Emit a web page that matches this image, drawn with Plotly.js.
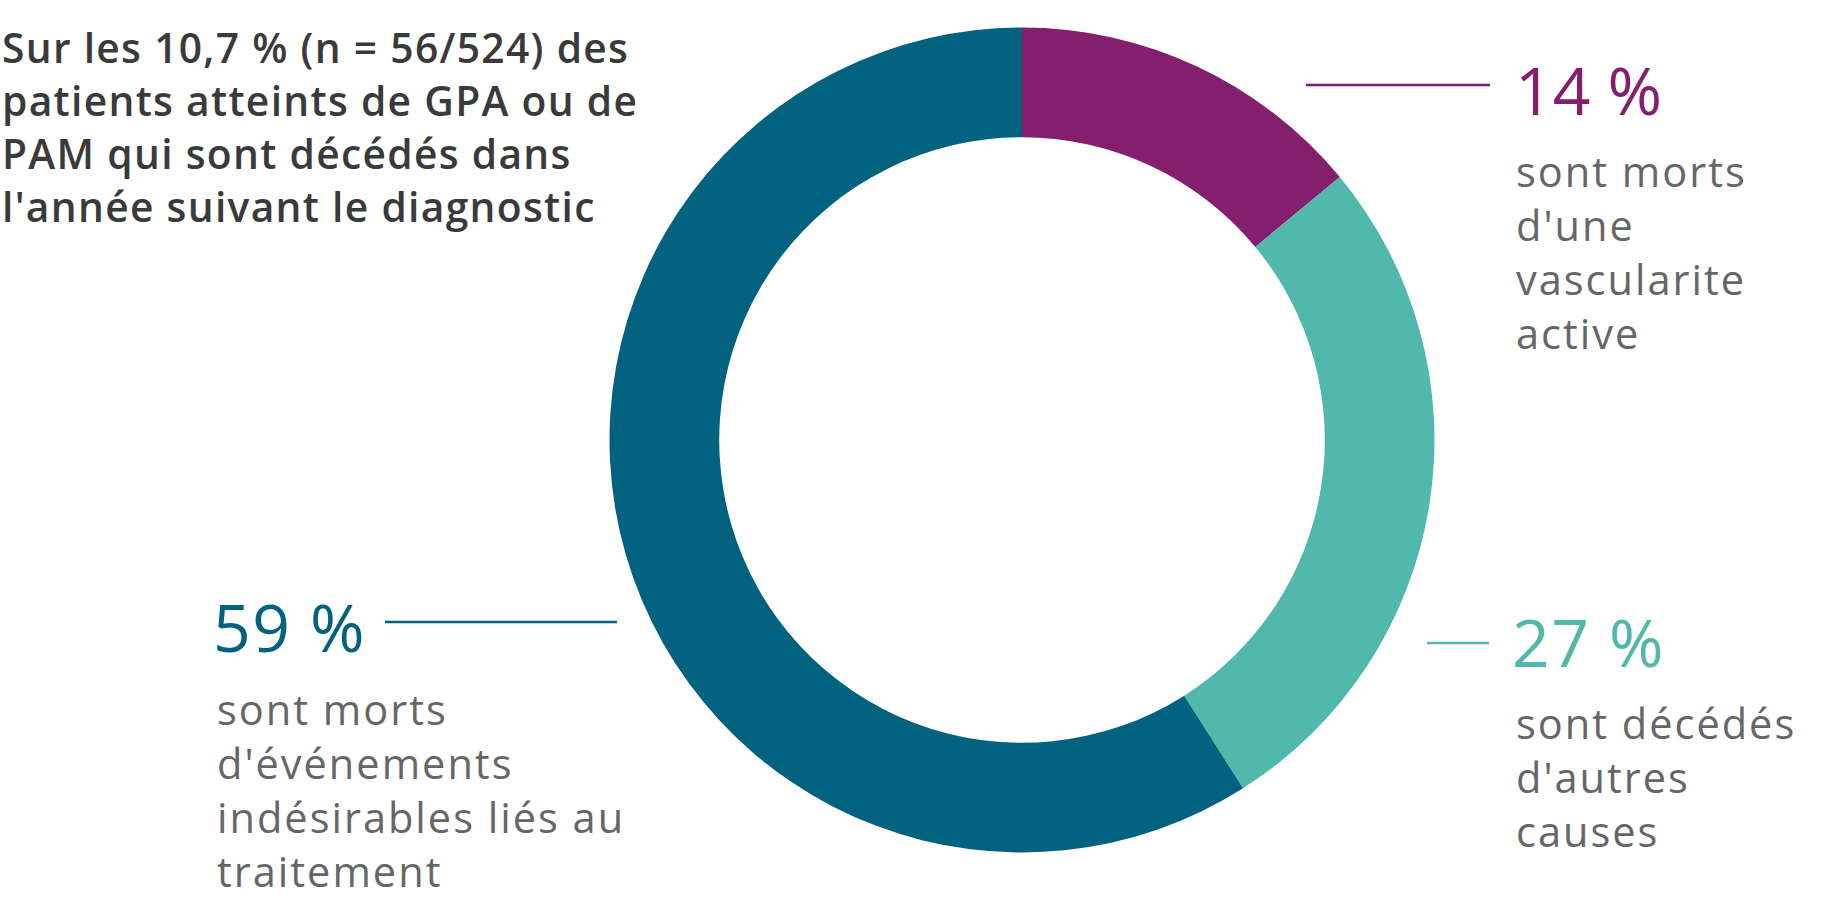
<!DOCTYPE html>
<html>
<head>
<meta charset="utf-8">
<script src="https://cdn.plot.ly/plotly-3.0.1.min.js"></script>
<style>
  html, body { margin: 0; padding: 0; background: #ffffff; }
  #chart { width: 1833px; height: 900px; }
</style>
</head>
<body>
<div id="chart"></div>
<script>
// ---- data ----
const categories = ["Vascularite active", "Autres causes", "Événements indésirables liés au traitement"];
const values = [14, 27, 59];
const sliceColors = ["#831F6C", "#51B9AB", "#00627E"];
const percentLabels = ["14 %", "27 %", "59 %"];
const descriptions = [
  ["sont morts", "d'une", "vascularite", "active"],
  ["sont décédés", "d'autres", "causes"],
  ["sont morts", "d'événements", "indésirables liés au", "traitement"]
];
const titleLines = [
  "Sur les 10,7 % (n = 56/524) des",
  "patients atteints de GPA ou de",
  "PAM qui sont décédés dans",
  "l'année suivant le diagnostic"
];

// ---- layout helpers ----
const W = 1833, H = 900;
const px = x => x / W;
const py = y => 1 - y / H;
const FONT = "'Open Sans', 'Noto Sans', sans-serif";

// label block placement (pixels): percent label position, first description line, connector line
const blocks = [
  { x: 1517, yPct: 91, yDesc: 175, line: [1306, 1490, 85] },
  { x: 1517, yPct: 643, yDesc: 727, line: [1427, 1489, 643] },
  { x: 218, yPct: 628, yDesc: 713, line: [385, 617, 622] }
];
const descStep = 54;
const titleStep = 53;

const annotations = [];
const shapes = [];
const spacing = []; // letter-spacing per annotation (style only)

annotations.push({
  xref: "paper", yref: "paper", x: px(0), y: py(47 + titleStep * (titleLines.length - 1) / 2),
  xanchor: "left", yanchor: "middle", showarrow: false, align: "left",
  text: titleLines.join("<br>"),
  font: { family: FONT, size: titleStep / 1.3, color: "#3a3a3a", weight: 600 }
});
spacing.push("1.3px");

blocks.forEach((b, k) => {
  annotations.push({
    xref: "paper", yref: "paper", x: px(b.x - 4), y: py(b.yPct - 2),
    xanchor: "left", yanchor: "middle", showarrow: false,
    text: percentLabels[k],
    font: { family: FONT, size: 66, color: sliceColors[k] }
  });
  spacing.push(k === 0 ? "0px" : "1.5px");
  const n = descriptions[k].length;
  annotations.push({
    xref: "paper", yref: "paper", x: px(b.x - 3), y: py(b.yDesc - 4 + descStep * (n - 1) / 2),
    xanchor: "left", yanchor: "middle", showarrow: false, align: "left",
    text: descriptions[k].join("<br>"),
    font: { family: FONT, size: descStep / 1.3, color: "#666666" }
  });
  spacing.push("2px");
  shapes.push({
    type: "line", xref: "paper", yref: "paper",
    x0: px(b.line[0]), x1: px(b.line[1]), y0: py(b.line[2]), y1: py(b.line[2]),
    line: { color: sliceColors[k], width: 2.5 }
  });
});

const trace = {
  type: "pie",
  labels: categories,
  values: values,
  marker: { colors: sliceColors, line: { width: 0 } },
  hole: 0.734,
  sort: false,
  direction: "clockwise",
  rotation: 0,
  textinfo: "none",
  hoverinfo: "label+percent",
  showlegend: false,
  domain: { x: [609.5 / W, 1434.5 / W], y: [1 - 852.5 / H, 1 - 27.5 / H] }
};

const layout = {
  width: W, height: H,
  margin: { l: 0, r: 0, t: 0, b: 0 },
  paper_bgcolor: "#ffffff",
  plot_bgcolor: "#ffffff",
  showlegend: false,
  annotations: annotations,
  shapes: shapes
};

Plotly.newPlot("chart", [trace], layout, { displayModeBar: false, staticPlot: true }).then(gd => {
  gd.querySelectorAll("g.annotation").forEach(g => {
    const i = +g.getAttribute("data-index");
    const t = g.querySelector("text.annotation-text");
    if (t && spacing[i]) t.style.letterSpacing = spacing[i];
  });
});
</script>
</body>
</html>
